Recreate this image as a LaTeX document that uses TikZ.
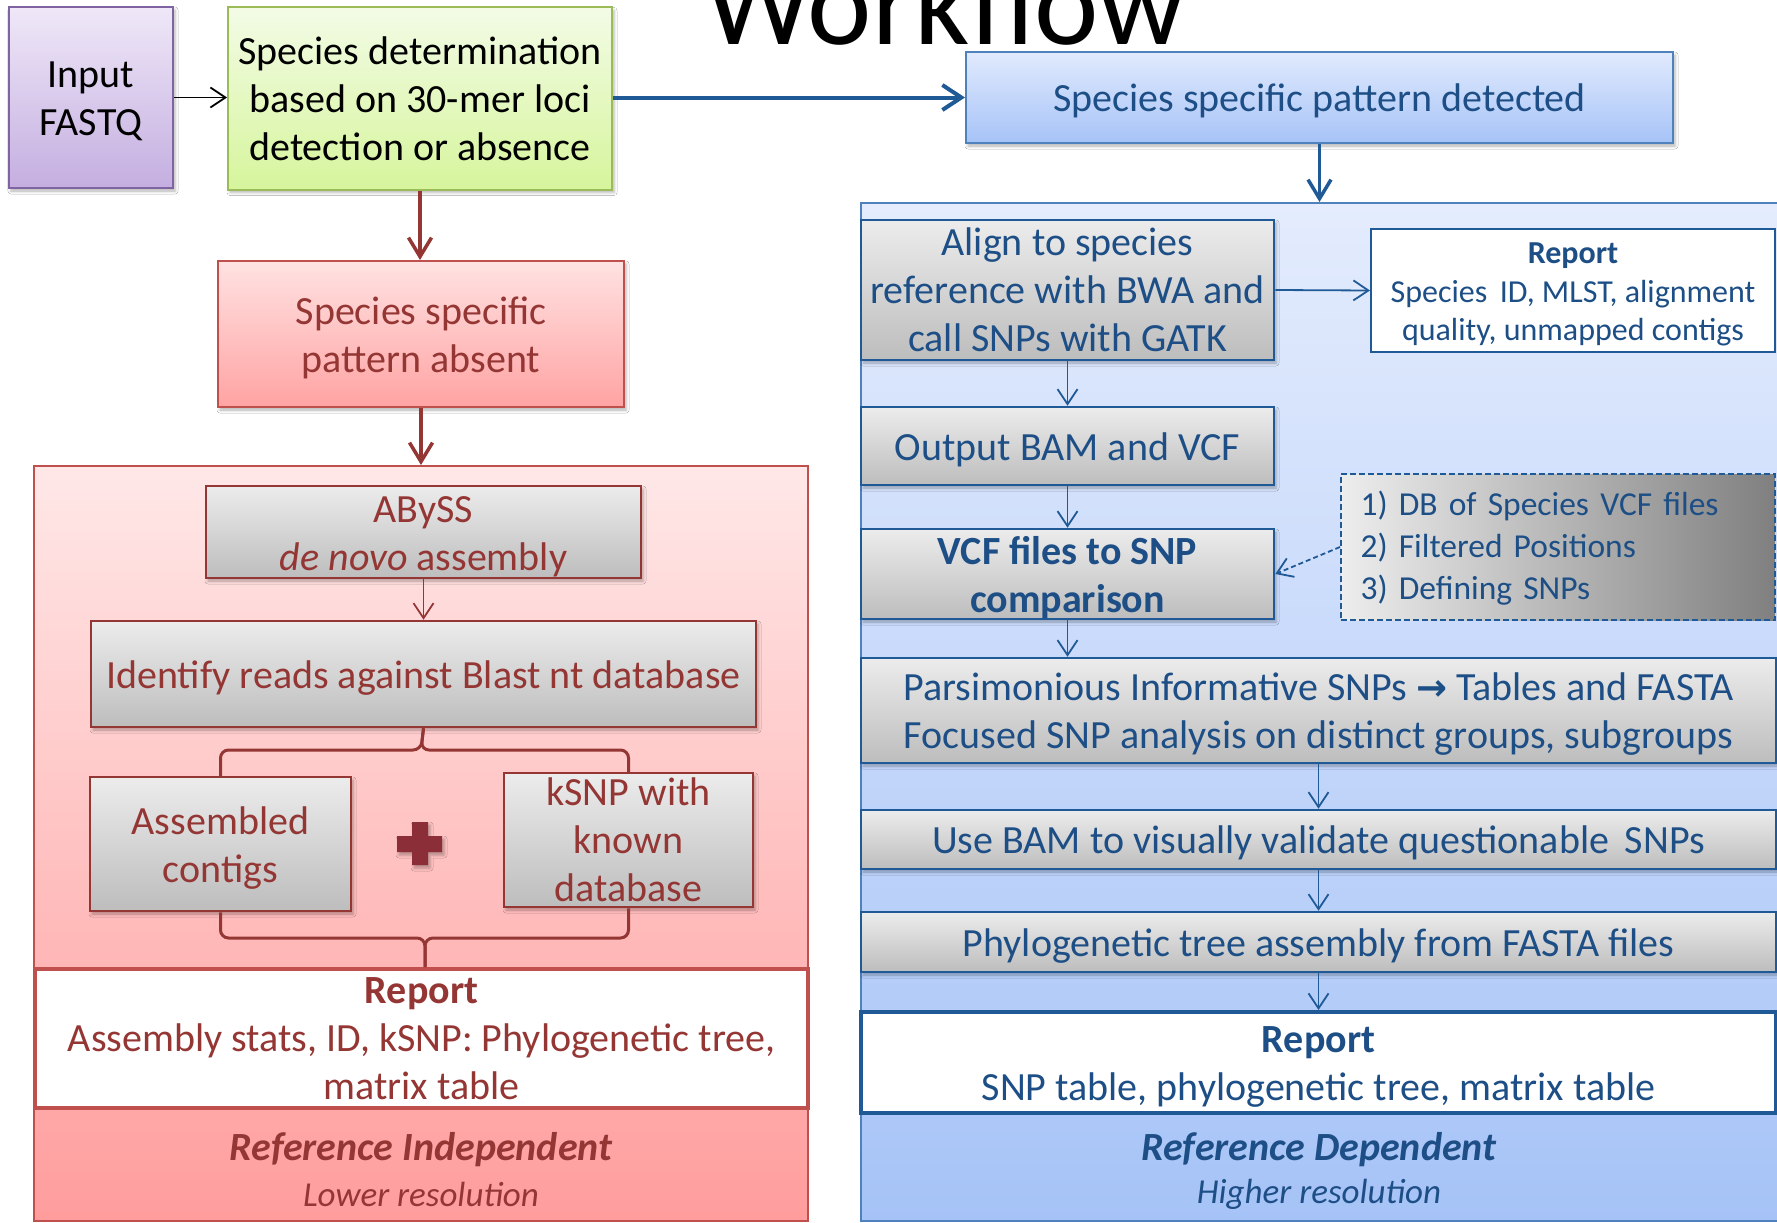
\documentclass[tikz,border=0pt]{standalone}
\usepackage{fontspec}
\setmainfont{Carlito}
\newfontfamily\symfont{DejaVu Sans}
\usetikzlibrary{arrows.meta,shadows.blur}

\definecolor{cPurB}{HTML}{8064A2}
\definecolor{cPurT}{HTML}{EFE8F8}
\definecolor{cPurD}{HTML}{C4AEE0}
\definecolor{cGrnB}{HTML}{9BBB59}
\definecolor{cGrnT}{HTML}{F3FBE6}
\definecolor{cGrnD}{HTML}{D6F59C}
\definecolor{cPnkB}{HTML}{C0504D}
\definecolor{cPnkT}{HTML}{FFE2E2}
\definecolor{cPnkD}{HTML}{FFA3A3}
\definecolor{cRedTxt}{HTML}{943634}
\definecolor{cPlus}{HTML}{8B2E38}
\definecolor{cBluB}{HTML}{4F81BD}
\definecolor{cBluT}{HTML}{E1EAFD}
\definecolor{cBluD}{HTML}{A6C3F7}
\definecolor{cNavy}{HTML}{1F5A97}
\definecolor{cNavyTxt}{HTML}{1D4F86}
\definecolor{cGryT}{HTML}{ECECEC}
\definecolor{cGryD}{HTML}{BDBDBD}

\newcommand\fsMain{\fontsize{40}{48}\selectfont}
\newcommand\fsDash{\fontsize{33.5}{42}\selectfont}
\newcommand\fsSmall{\fontsize{32}{38.5}\selectfont}
\newcommand\fsRes{\fontsize{35}{40}\selectfont}
% full-ascent strut for the first line of a text frame
\newcommand\tstrut{\rule{0pt}{0.97em}}

\begin{document}
\begin{tikzpicture}[x=1pt,y=-1pt,
  box/.style={draw, line width=2pt, inner sep=0pt, align=center, font=\fsMain},
  % full-descent strut for the last line of a text frame
  low/.style={execute at end node={\rule[-0.25em]{0pt}{0.25em}}},
  shd/.style={blur shadow={shadow xshift=2pt,shadow yshift=-3pt,shadow blur radius=3pt,shadow opacity=30}},
  graybox/.style={box, shd, top color=cGryT, bottom color=cGryD},
  redgray/.style={graybox, draw=cRedTxt, line width=2.5pt, text=cRedTxt},
  bluegray/.style={graybox, draw=cNavy, line width=2.5pt, text=cNavyTxt},
  panel/.style={draw, line width=2pt, inner sep=0pt},
  redline/.style={draw=cRedTxt, line width=1.8pt},
  blueline/.style={draw=cNavy, line width=1.8pt},
  smalltip/.style={-{Straight Barb[length=15pt,width=20pt]}},
  bigtip/.style={-{Straight Barb[length=19pt,width=23pt]}},
  tag/.style={inner sep=0pt, align=center}
]
\useasboundingbox (0,0) rectangle (1777,1223);
\fill[white] (0,0) rectangle (1777,1223);
\begin{scope}
\clip (0,0) rectangle (1777,1223);

% title
\node[tag, anchor=base, font=\fontsize{122}{146}\selectfont] (title) at (945,45) {Workflow};

% background panels
\node[panel, draw=cPnkB, top color=cPnkT!80!white, bottom color=cPnkD!96!red,
      minimum width=774pt, minimum height=755pt] (lpanel) at (421,843.5) {};
\node[panel, draw=cBluB, top color=cBluT!90!white, bottom color=cBluD,
      minimum width=929pt, minimum height=1018pt] (rpanel) at (1325.5,712) {};

% top row
\node[box, low, shd, draw=cPurB, top color=cPurT, bottom color=cPurD,
      minimum width=164pt, minimum height=181pt] (inp) at (91,97.5) {\tstrut Input\\FASTQ};
\node[box, shd, draw=cGrnB, top color=cGrnT, bottom color=cGrnD,
      minimum width=384pt, minimum height=182pt] (spec) at (420,98.5)
      {Species determination\\based on 30-mer loci\\detection or absence};
\node[box, low, shd, draw=cPnkB, top color=cPnkT, bottom color=cPnkD, text=cRedTxt,
      minimum width=406pt, minimum height=146pt] (absent) at (421,334)
      {\tstrut Species specific\\pattern absent};
\node[box, low, shd, draw=cBluB, top color=cBluT, bottom color=cBluD, text=cNavyTxt,
      minimum width=707pt, minimum height=91pt] (detected) at (1319.5,97.5)
      {\tstrut Species specific pattern detected};

% reference independent branch
\node[redgray, low, inner ysep=-8pt, minimum width=435pt, minimum height=92pt] (abyss) at (423.5,532)
      {\tstrut ABySS\\\textit{de novo} assembly};
\node[redgray, low, minimum width=665pt, minimum height=106pt] (ident) at (423.5,674)
      {\tstrut Identify reads against Blast nt database};
\node[redgray, low, minimum width=261pt, minimum height=134pt] (asm) at (220.5,844)
      {\tstrut Assembled\\contigs};
\node[redgray, minimum width=249pt, minimum height=134pt] (ksnp) at (628.5,840)
      {kSNP with\\known\\database};
\node[box, draw=cPnkB, line width=4pt, fill=white, text=cRedTxt,
      minimum width=773pt, minimum height=139pt] (repL) at (421.5,1038.5)
      {\textbf{Report}\\Assembly stats, ID, kSNP: Phylogenetic tree,\\matrix table};
\node[tag, text=cRedTxt, font=\fsMain\bfseries\itshape] (indep) at (421,1150) {Reference Independent};
\node[tag, text=cRedTxt, font=\fsRes\itshape] (lowres) at (421,1194) {Lower resolution};

% plus sign between the two results
\fill[cPlus, shd]
  (412,822) -- (428,822) -- (428,836) -- (442,836) -- (442,852) -- (428,852)
  -- (428,865) -- (412,865) -- (412,852) -- (397,852) -- (397,836) -- (412,836) -- cycle;

% reference dependent branch
\node[bluegray, minimum width=413pt, minimum height=140pt] (align) at (1067.5,290)
      {Align to species\\reference with BWA and\\call SNPs with GATK};
\node[box, low, draw=cNavy, fill=white, text=cNavyTxt, font=\fsSmall,
      minimum width=404pt, minimum height=123pt] (repT) at (1573,290.5)
      {\tstrut\textbf{Report}\\Species\, ID, MLST, alignment\\quality, unmapped contigs};
\node[bluegray, low, minimum width=413pt, minimum height=78pt] (outp) at (1067.5,446)
      {\tstrut Output BAM and VCF};
\node[bluegray, low, inner ysep=-8pt, minimum width=413pt, minimum height=90pt, font=\fsMain\bfseries] (vcf) at (1067.5,574)
      {\tstrut VCF files to SNP\\comparison};
\node[box, draw=cNavy, dash pattern=on 6pt off 3pt, text=cNavyTxt, font=\fsDash,
      left color=white!93!black, middle color=white!80!black, right color=white!50!black,
      minimum width=434pt, minimum height=146pt, text width=395pt, align=left] (dbx) at (1558,547)
      {\rule{0pt}{0.82em}1) DB of Species VCF files\\2) Filtered Positions\\3) Defining SNPs};
\node[bluegray, low, minimum width=915pt, minimum height=105pt] (pars) at (1318.5,710.5)
      {\tstrut Parsimonious Informative SNPs {\symfont\bfseries\fontsize{37}{40}\selectfont →} Tables and FASTA\\Focused SNP analysis on distinct groups, subgroups};
\node[bluegray, low, minimum width=915pt, minimum height=59pt] (ubam) at (1318.5,839.5)
      {\tstrut Use BAM to visually validate questionable\, SNPs};
\node[bluegray, low, minimum width=915pt, minimum height=60pt] (phylo) at (1318.5,942)
      {\tstrut Phylogenetic tree assembly from FASTA files};
\node[box, low, draw=cNavy, line width=4pt, fill=white, text=cNavyTxt,
      minimum width=915pt, minimum height=101pt] (repR) at (1318.5,1062.5)
      {\tstrut\textbf{Report}\\SNP table, phylogenetic tree, matrix table};
\node[tag, text=cNavyTxt, font=\fsMain\bfseries\itshape] (dep) at (1319,1150) {Reference Dependent};
\node[tag, text=cNavyTxt, font=\fsRes\itshape] (highres) at (1319,1194) {Higher resolution};

% connectors, top row
\draw[line width=1.8pt, black, smalltip] (inp.east) -- (spec.west |- inp.east);
\draw[draw=cNavy, line width=4pt, -{Straight Barb[length=19pt,width=25pt]}] (spec.east |- detected.west) -- (detected.west);
\draw[draw=cRedTxt, line width=3.5pt, bigtip] (spec.south) -- (spec.south |- absent.north);
\draw[draw=cRedTxt, line width=3.5pt, bigtip] (absent.south) -- (absent.south |- lpanel.north);
\draw[draw=cNavy, line width=3.5pt, bigtip] (detected.south) -- (detected.south |- rpanel.north);

% connectors, left branch: a brace splitting into the two results and one joining them
\draw[redline, smalltip] (abyss.south) -- (abyss.south |- ident.north);
\coordinate (btop) at (421,750);
\coordinate (bbot) at (425,938);
\draw[draw=cRedTxt, line width=3pt, rounded corners=8pt] (asm.north) |- (btop) -- (ident.south);
\draw[draw=cRedTxt, line width=3pt, rounded corners=8pt] (ksnp.north) |- (btop) -- (ident.south);
\draw[draw=cRedTxt, line width=3pt, rounded corners=8pt] (asm.south) |- (bbot) -- (bbot |- repL.north);
\draw[draw=cRedTxt, line width=3pt, rounded corners=8pt] (ksnp.south) |- (bbot) -- (bbot |- repL.north);

% connectors, right branch
\draw[blueline, smalltip] (align.east) -- (repT.west);
\draw[blueline, smalltip] (align.south) -- (outp.north);
\draw[blueline, smalltip] (outp.south) -- (vcf.north);
\draw[blueline, dash pattern=on 5pt off 3pt, smalltip] (dbx.west) -- (vcf.east);
\draw[blueline, smalltip] (vcf.south) -- (vcf.south |- pars.north);
\draw[blueline, smalltip] (pars.south) -- (ubam.north);
\draw[blueline, smalltip] (ubam.south) -- (phylo.north);
\draw[blueline, smalltip] (phylo.south) -- (repR.north);
\end{scope}
\end{tikzpicture}
\end{document}
